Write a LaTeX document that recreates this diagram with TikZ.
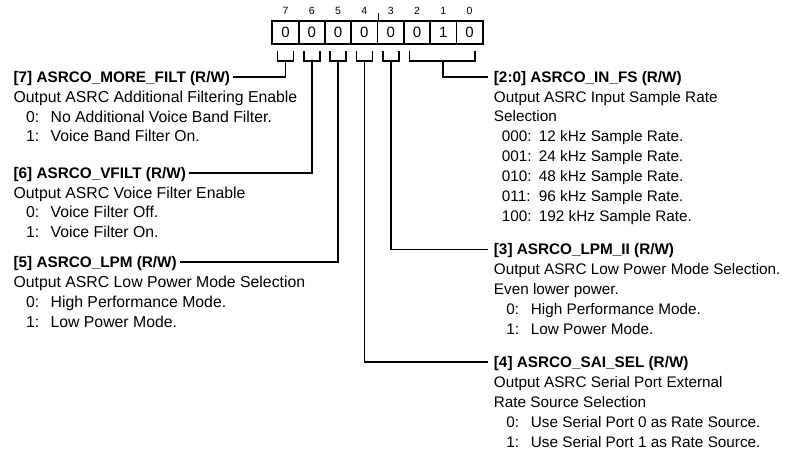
\documentclass[tikz,border=0pt]{standalone}
\usepackage{fontspec}
\setmainfont{Liberation Sans}
\begin{document}
\begin{tikzpicture}[x=1pt,y=-1pt, line width=1.8pt,
  hdrL/.style={font=\fontsize{15.3}{18}\selectfont\bfseries, text height=10.8pt, text depth=0pt, inner ysep=0pt, inner xsep=2.2pt, anchor=west},
  hdrR/.style={font=\fontsize{15.3}{18}\selectfont\bfseries, text height=10.8pt, text depth=0pt, inner ysep=0pt, inner xsep=5pt, anchor=west},
  txt/.style={font=\fontsize{15.8}{18}\selectfont, inner sep=0pt, anchor=base west},
  txtR/.style={font=\fontsize{15.3}{18}\selectfont, inner sep=0pt, anchor=base west},
  bitnum/.style={font=\fontsize{10.5}{12}\selectfont, inner sep=0pt},
  cell/.style={draw, minimum width=26.3pt, minimum height=23pt, inner sep=0pt, font=\fontsize{15}{18}\selectfont},
  tick/.style={line width=1.4pt}
]
\useasboundingbox (0,0) rectangle (796,453);

% register cells and bit numbers
\foreach \b/\v [count=\k from 0] in {7/0,6/0,5/0,4/0,3/0,2/0,1/1,0/0}{
  \node[cell] (c\b) at ({285.5+26.3*\k},32.5) {\v};
  \node[bitnum] (n\b) at ({285.5+26.3*\k},11) {\b};
}
\draw[tick] (c4.north east) -- ++(0,-7);

% single-bit brackets
\foreach \b in {7,6,5,4,3}{
  \draw ([xshift=-8pt,yshift=-6pt]c\b.south) -- ([xshift=-8pt,yshift=-16pt]c\b.south)
     -- ([xshift=8pt,yshift=-16pt]c\b.south) -- ([xshift=8pt,yshift=-6pt]c\b.south);
  \coordinate (s\b) at ([yshift=-16pt]c\b.south);
}
% bracket for bits 2:0
\draw ([xshift=-7.5pt,yshift=-6pt]c2.south) -- ([xshift=-7.5pt,yshift=-16pt]c2.south)
   -- ([xshift=5pt,yshift=-16pt]c0.south) -- ([xshift=5pt,yshift=-6pt]c0.south);
\coordinate (s20) at ([yshift=-16pt]c1.south);

% ---------- left column ----------
\node[hdrL] (h7) at (10.5,76.7) {[7] ASRCO\_MORE\_FILT (R/W)};
\node[txt] (t7a) at (12.7,102.1) {Output ASRC Additional Filtering Enable};
\node[txt] (t7b) at (25.2,122.0) {0:};
\node[txt] (t7c) at (49.7,122.0) {No Additional Voice Band Filter.};
\node[txt] (t7d) at (25.2,141.9) {1:};
\node[txt] (t7e) at (49.7,141.9) {Voice Band Filter On.};

\node[hdrL] (h6) at (10.5,172.7) {[6] ASRCO\_VFILT (R/W)};
\node[txt] (t6a) at (12.7,198.0) {Output ASRC Voice Filter Enable};
\node[txt] (t6b) at (25.2,217.9) {0:};
\node[txt] (t6c) at (49.7,217.9) {Voice Filter Off.};
\node[txt] (t6d) at (25.2,237.8) {1:};
\node[txt] (t6e) at (49.7,237.8) {Voice Filter On.};

\node[hdrL] (h5) at (10.5,262) {[5] ASRCO\_LPM (R/W)};
\node[txt] (t5a) at (12.7,287.3) {Output ASRC Low Power Mode Selection};
\node[txt] (t5b) at (25.2,307.2) {0:};
\node[txt] (t5c) at (49.7,307.2) {High Performance Mode.};
\node[txt] (t5d) at (25.2,327.1) {1:};
\node[txt] (t5e) at (49.7,327.1) {Low Power Mode.};

% ---------- right column ----------
\node[hdrR] (h20) at (488,76.7) {[2:0] ASRCO\_IN\_FS (R/W)};
\node[txtR] (t2a) at (493,102.0) {Output ASRC Input Sample Rate};
\node[txtR] (t2b) at (493,121.9) {Selection};
\node[txtR] (t2c) at (501,141.8) {000:};
\node[txtR] (t2d) at (538,141.8) {12 kHz Sample Rate.};
\node[txtR] (t2e) at (501,161.7) {001:};
\node[txtR] (t2f) at (538,161.7) {24 kHz Sample Rate.};
\node[txtR] (t2g) at (501,181.6) {010:};
\node[txtR] (t2h) at (538,181.6) {48 kHz Sample Rate.};
\node[txtR] (t2i) at (501,201.5) {011:};
\node[txtR] (t2j) at (538,201.5) {96 kHz Sample Rate.};
\node[txtR] (t2k) at (501,221.4) {100:};
\node[txtR] (t2l) at (538,221.4) {192 kHz Sample Rate.};

\node[hdrR] (h3) at (488,249.5) {[3] ASRCO\_LPM\_II (R/W)};
\node[txtR] (t3a) at (493,274.8) {Output ASRC Low Power Mode Selection.};
\node[txtR] (t3b) at (493,294.7) {Even lower power.};
\node[txtR] (t3c) at (505.5,314.6) {0:};
\node[txtR] (t3d) at (530,314.6) {High Performance Mode.};
\node[txtR] (t3e) at (505.5,334.5) {1:};
\node[txtR] (t3f) at (530,334.5) {Low Power Mode.};

\node[hdrR] (h4) at (488,362) {[4] ASRCO\_SAI\_SEL (R/W)};
\node[txtR] (t4a) at (493,387.3) {Output ASRC Serial Port External};
\node[txtR] (t4b) at (493,407.2) {Rate Source Selection};
\node[txtR] (t4c) at (505.5,427.1) {0:};
\node[txtR] (t4d) at (530,427.1) {Use Serial Port 0 as Rate Source.};
\node[txtR] (t4e) at (505.5,447.0) {1:};
\node[txtR] (t4f) at (530,447.0) {Use Serial Port 1 as Rate Source.};

% ---------- connectors ----------
\draw (h7.east) -| (s7);
\draw (h6.east) -| (s6);
\draw (h5.east) -| (s5);
\draw (s4) |- (h4.west);
\draw (s3) |- (h3.west);
\draw (s20) |- (h20.west);
\end{tikzpicture}
\end{document}
